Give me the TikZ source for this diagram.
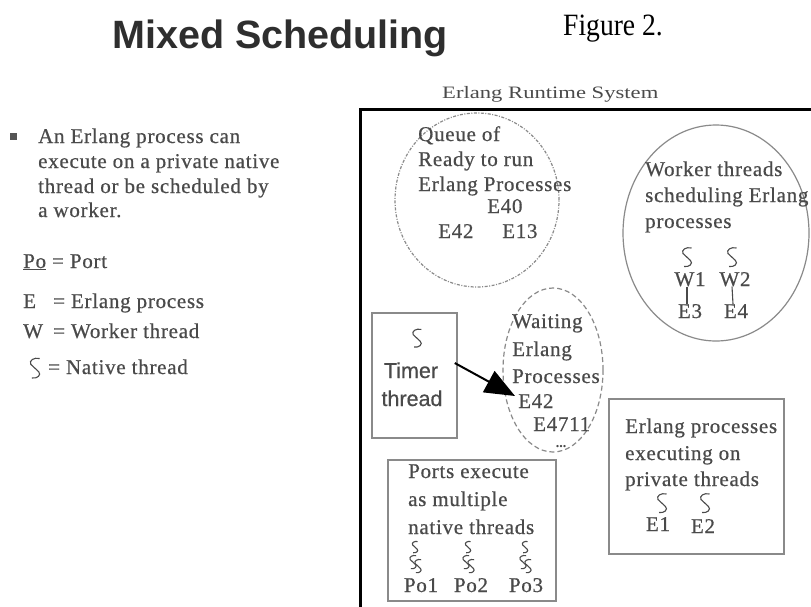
\documentclass[tikz,border=0pt]{standalone}
\usepackage{fontspec}
\setmainfont{Liberation Serif}
\newfontfamily\slsans[FakeBold=0.5]{Liberation Sans}
\newfontfamily\sltitle{Liberation Sans}
\newfontfamily\slserif[LetterSpace=3.5,FakeBold=0.6]{Liberation Serif}
\usetikzlibrary{shapes.geometric,arrows.meta}
\definecolor{txtgray}{HTML}{4A4A4A}
\definecolor{titlegray}{HTML}{2E2E2E}
\definecolor{linegray}{HTML}{8A8A8A}
\definecolor{bulletgray}{HTML}{555555}
\tikzset{
  txt/.style={font=\slserif\fontsize{21}{25}\selectfont, text=txtgray, inner sep=0pt, anchor=base west},
  ctxt/.style={txt, anchor=base},
  sanstxt/.style={font=\slsans\fontsize{21.5}{25}\selectfont, text=txtgray, inner sep=0pt, anchor=base},
  boxline/.style={draw=linegray, line width=1.5pt, inner sep=0pt},
  threadline/.style={draw=txtgray, line width=1.1pt},
  nthread/.pic={\draw[threadline] (4.5,-9) .. controls (-1,-10.5) and (-6,-7) .. (-4,-3.5) -- (3.5,3.5) .. controls (6.5,6.5) and (2,10.5) .. (-3,9.5);}
}
\begin{document}
\begin{tikzpicture}[x=1pt,y=-1pt]
\useasboundingbox (0,0) rectangle (811,606);
\clip (0,0) rectangle (811,606);
\fill[white] (0,0) rectangle (811,606);

% titles
\node[font=\sltitle\bfseries\fontsize{39.5}{44}\selectfont, text=titlegray, anchor=base west, inner sep=0pt] (title) at (112,48) {Mixed Scheduling};
\node[font=\fontsize{31}{34}\selectfont, anchor=base west, inner sep=0pt] (fig) at (563,35) {\scalebox{0.89}[1]{Figure 2.}};
\node[font=\fontsize{17.4}{20}\selectfont, text=txtgray, anchor=base west, inner sep=0pt] (rtlabel) at (442,98) {\scalebox{1.3}[1]{Erlang Runtime System}};

% left column
\node[fill=bulletgray, minimum size=7pt, inner sep=0pt] (bullet) at (13.5,136) {};
\node[txt] (b1) at (38,143) {An Erlang process can};
\node[txt] (b2) at (38,168) {execute on a private native};
\node[txt] (b3) at (38,193) {thread or be scheduled by};
\node[txt] (b4) at (38,217) {a worker.};

\node[txt] (l1) at (23,268) {\underline{Po} = Port};
\node[txt] (l2a) at (23,308) {E};
\node[txt] (l2b) at (53,308) {= Erlang process};
\node[txt] (l3a) at (23,338) {W};
\node[txt] (l3b) at (53,338) {= Worker thread};
\pic[scale=1.05] at (35,368) {nthread};
\node[txt] (l4) at (48,374) {= Native thread};

% runtime system frame
\node[draw=black, line width=2.5pt, minimum width=520pt, minimum height=560pt, anchor=north west, inner sep=0pt] (runtime) at (359,108) {};

% queue of ready processes
\node[draw=linegray, line width=1.2pt, dash pattern=on 3pt off 1.5pt on 1pt off 1.5pt, ellipse, minimum width=164pt, minimum height=174pt, inner sep=0pt] (queue) at (477,200) {};
\node[txt] (q1) at (418,141) {Queue of};
\node[txt] (q2) at (418,166) {Ready to run};
\node[txt] (q3) at (418,191) {Erlang Processes};
\node[txt] (q4) at (487,213) {E40};
\node[txt] (q5) at (438,238) {E42};
\node[txt] (q6) at (502,238) {E13};

% worker threads
\node[draw=linegray, line width=1.2pt, ellipse, minimum width=186pt, minimum height=216pt, inner sep=0pt] (worker) at (716,233) {};
\node[txt] (w1l) at (645,176) {Worker threads};
\node[txt] (w2l) at (645,202) {scheduling Erlang};
\node[txt] (w3l) at (645,228) {processes};
\pic at (687,257) {nthread};
\pic at (732,257) {nthread};
\node[ctxt] (wa) at (690,286) {W1};
\node[ctxt] (wb) at (735,286) {W2};
\node[ctxt] (ea) at (690,318) {E3};
\node[ctxt] (eb) at (736,318) {E4};
\draw[threadline] ([xshift=-3pt]wa.south) -- ([xshift=-3pt]ea.north);
\draw[threadline] ([xshift=-3pt]wb.south) -- ([xshift=-3pt]eb.north);

% timer thread
\node[boxline, minimum width=85pt, minimum height=125pt] (timer) at (414.5,375.5) {};
\pic[scale=0.95] at (417,338) {nthread};
\node[sanstxt] (t1) at (411,378) {Timer};
\node[sanstxt] (t2) at (412,406) {thread};

% waiting processes
\node[draw=linegray, line width=1.2pt, dash pattern=on 5pt off 3pt, ellipse, minimum width=100pt, minimum height=164pt, inner sep=0pt] (waiting) at (553,370) {};
\node[txt] (wt1) at (512,328) {Waiting};
\node[txt] (wt2) at (512,356) {Erlang};
\node[txt] (wt3) at (512,383) {Processes};
\node[txt] (wt4) at (518,408) {E42};
\node[txt] (wt5) at (533,431) {E4711};
\node[font=\bfseries\fontsize{14}{14}\selectfont, text=txtgray, anchor=base, inner sep=0pt] (wt6) at (561,447) {...};
\coordinate (arrowtip) at (515,396);
\draw[line width=2pt, -{Triangle[length=30pt,width=24pt]}] ([xshift=-3pt,yshift=12.5pt]timer.east) -- (arrowtip);

% private threads
\node[boxline, minimum width=175pt, minimum height=155pt, anchor=north west] (private) at (608,398) {};
\node[txt] (p1) at (625,433) {Erlang processes};
\node[txt] (p2) at (625,460) {executing on};
\node[txt] (p3) at (625,486) {private threads};
\pic at (662,503) {nthread};
\pic at (705,503) {nthread};
\node[ctxt] (pe1) at (658,531) {E1};
\node[ctxt] (pe2) at (703,533) {E2};

% ports
\node[boxline, minimum width=168pt, minimum height=141pt, anchor=north west] (ports) at (387,459) {};
\node[txt] (r1) at (408,478) {Ports execute};
\node[txt] (r2) at (408,506) {as multiple};
\node[txt] (r3) at (408,534) {native threads};
\foreach \px in {415,468,525} {
  \pic[scale=0.6] at (\px,547) {nthread};
  \pic[scale=0.7] at (\px-2,562) {nthread};
  \pic[scale=0.7] at (\px+3,566) {nthread};
}
\node[ctxt] (po1) at (421,592) {Po1};
\node[ctxt] (po2) at (471,592) {Po2};
\node[ctxt] (po3) at (526,592) {Po3};
\end{tikzpicture}
\end{document}
